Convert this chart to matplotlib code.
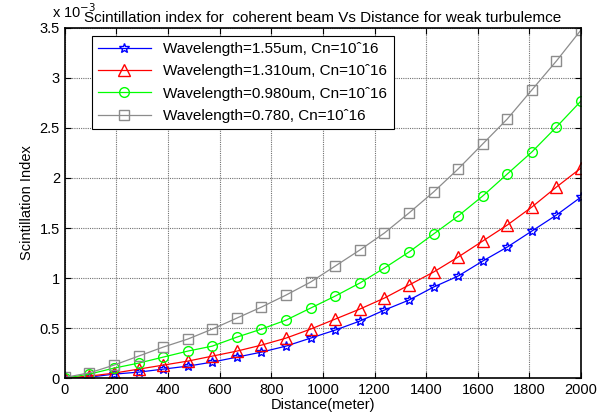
import numpy as np
import matplotlib
matplotlib.use('Agg')
import matplotlib.pyplot as plt

plt.rcParams['font.family'] = ['Liberation Sans', 'DejaVu Sans']

# distance points (22 samples 0..2000 m)
distance = np.linspace(0, 2000, 22)

# scintillation index values (x 10^-3)
si_1550 = [0.0, 0.01, 0.04, 0.06, 0.09, 0.12, 0.16, 0.21, 0.26, 0.32, 0.40,
           0.48, 0.57, 0.68, 0.78, 0.91, 1.02, 1.17, 1.31, 1.47, 1.63, 1.81]
si_1310 = [0.0, 0.02, 0.05, 0.09, 0.13, 0.17, 0.22, 0.27, 0.33, 0.40, 0.49,
           0.59, 0.69, 0.80, 0.93, 1.06, 1.21, 1.37, 1.53, 1.71, 1.91, 2.10]
si_980 = [0.0, 0.04, 0.10, 0.15, 0.21, 0.27, 0.32, 0.41, 0.49, 0.58, 0.70,
          0.82, 0.95, 1.10, 1.26, 1.44, 1.62, 1.82, 2.04, 2.26, 2.51, 2.77]
si_780 = [0.007, 0.053, 0.13, 0.22, 0.31, 0.39, 0.49, 0.60, 0.71, 0.83, 0.96,
          1.12, 1.28, 1.45, 1.65, 1.86, 2.09, 2.34, 2.59, 2.88, 3.17, 3.48]

labels = ['Wavelength=1.55um, Cn=10ˆ16',
          'Wavelength=1.310um, Cn=10ˆ16',
          'Wavelength=0.980um, Cn=10ˆ16',
          'Wavelength=0.780, Cn=10ˆ16']

fig = plt.figure(figsize=(6.11, 4.16), dpi=100)
ax = fig.add_axes([0.106, 0.091, 0.845, 0.842])

ax.plot(distance, si_1550, color='blue', lw=0.9, marker='*', ms=7,
        mfc='none', mec='blue', label=labels[0])
ax.plot(distance, si_1310, color='red', lw=0.9, marker='^', ms=8,
        mfc='none', mec='red', label=labels[1])
ax.plot(distance, si_980, color='#00ff00', lw=0.9, marker='o', ms=7,
        mfc='none', mec='#00ff00', label=labels[2])
ax.plot(distance, si_780, color='#8c8c8c', lw=0.9, marker='s', ms=7,
        mfc='none', mec='#8c8c8c', label=labels[3])

ax.set_xlim(0, 2000)
ax.set_ylim(0, 3.5)
ax.set_xticks(np.arange(0, 2001, 200))
ax.set_yticks(np.arange(0, 3.51, 0.5))
ax.set_yticklabels(['%g' % v for v in np.arange(0, 3.51, 0.5)])
ax.tick_params(direction='in', top=True, right=True, length=4, labelsize=10.5)
ax.grid(True, color='#707070', ls=(0, (1, 1)), lw=0.8)
for s in ax.spines.values():
    s.set_linewidth(1.2)

ax.set_xlabel('Distance(meter)', fontsize=10.5, labelpad=1)
ax.set_ylabel('Scintillation Index', fontsize=10.5)
ax.set_title('Scintillation index for  coherent beam Vs Distance for weak turbulemce',
             fontsize=11, pad=4)
ax.text(-0.025, 1.02, 'x 10$^{-3}$', transform=ax.transAxes, fontsize=10.5,
        ha='left', va='bottom')

leg = ax.legend(loc='upper left', bbox_to_anchor=(0.052, 0.977), borderaxespad=0,
                fancybox=False, edgecolor='black', framealpha=1, fontsize=11,
                handlelength=3.5, labelspacing=0.55)
leg.get_frame().set_linewidth(0.8)

fig.savefig('out.png', dpi=100)
